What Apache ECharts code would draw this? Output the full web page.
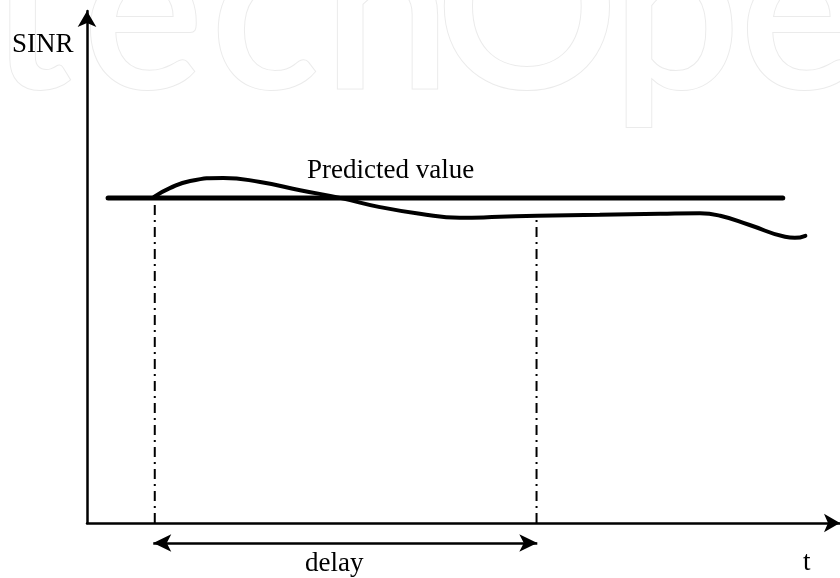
<!DOCTYPE html>
<html>
<head>
<meta charset="utf-8">
<script src="https://cdn.jsdelivr.net/npm/echarts@6/dist/echarts.min.js"></script>
<style>html,body{margin:0;padding:0;background:#fff;}#c{width:840px;height:578px;}</style>
</head>
<body>
<div id="c"></div>
<script>
// ---- data (time t in % of axis, SINR in % of axis) ----
var predictedT = [2.8, 92.4];
var predictedValue = 63.5;
var actualT    = [8.9, 11.0, 13.7, 18.1, 23.0, 28.3, 33.6, 38.9, 44.2, 49.5, 54.8, 59.8, 68.1, 76.1, 81.4, 84.1, 88.0, 92.7, 94.0, 95.4];
var actualSINR = [63.7, 65.4, 66.8, 67.4, 66.6, 65.0, 63.5, 61.7, 60.4, 59.6, 59.8, 60.0, 60.2, 60.4, 60.5, 60.0, 58.2, 55.9, 55.7, 56.1];
var delayStart = 8.8;
var delayEnd = 59.8;
var labels = {y: 'SINR', x: 't', delay: 'delay', predicted: 'Predicted value'};
var watermarkLetters = ['t','e','c','h','O','p','e'];
var watermarkX = [30, 143, 265, 387, 527, 676, 800];

function actualAt(t){
  var best = 0;
  for (var i = 0; i < actualT.length; i++) if (Math.abs(actualT[i]-t) < Math.abs(actualT[best]-t)) best = i;
  return actualSINR[best];
}

var chart = echarts.init(document.getElementById('c'));
var serif = '"Liberation Serif","Times New Roman",serif';
var black = '#000';

var graphics = watermarkLetters.map(function(ch, i){
  return {
    type: 'text', z: 0, silent: true,
    x: watermarkX[i], y: -100,
    style: {
      text: ch, font: '600 228px Lato, "Open Sans", sans-serif',
      fill: '#fff', stroke: '#ebebeb', lineWidth: 2,
      align: 'center', verticalAlign: 'top'
    }
  };
});
function label(text, x, y){
  return {type:'text', z:10, x:x, y:y, style:{text:text, font:'27px '+serif, fill:black, verticalAlign:'middle'}};
}
graphics.push(
  label(labels.y, 12, 45),
  label(labels.predicted, 307, 171),
  label(labels.delay, 305, 564),
  label(labels.x, 803, 563)
);

var hidden = {show:false};
var axisCommon = {
  type: 'value', min: 0, max: 100,
  axisTick: hidden, axisLabel: hidden, splitLine: hidden,
  axisLine: {show:true, symbol:['none','arrow'], symbolSize:[14,16], lineStyle:{color:black, width:2.5}}
};

chart.setOption({
  animation: false,
  backgroundColor: '#fff',
  grid: [
    {left: 87, right: 0, top: 11, bottom: 55, containLabel: false},
    {left: 87, right: 0, top: 533, bottom: 25, containLabel: false}
  ],
  xAxis: [
    Object.assign({gridIndex: 0}, axisCommon),
    {gridIndex: 1, type: 'value', min: 0, max: 100, show: false}
  ],
  yAxis: [
    Object.assign({gridIndex: 0}, axisCommon),
    {gridIndex: 1, type: 'value', min: -1, max: 1, show: false}
  ],
  graphic: graphics,
  series: [
    {
      type: 'line', name: 'predicted', symbol: 'none', z: 5,
      data: predictedT.map(function(t){ return [t, predictedValue]; }),
      lineStyle: {color: black, width: 5, cap: 'round'}
    },
    {
      type: 'line', name: 'actual', symbol: 'none', smooth: 0.5, z: 6,
      data: actualT.map(function(t, i){ return [t, actualSINR[i]]; }),
      lineStyle: {color: black, width: 4, cap: 'round'}
    },
    {
      type: 'line', name: 'guide1', symbol: 'none', z: 4,
      data: [[delayStart + 0.2, 0], [delayStart + 0.2, predictedValue - 0.8]],
      lineStyle: {color: black, width: 2, type: [10, 5, 2, 5]}
    },
    {
      type: 'line', name: 'guide2', symbol: 'none', z: 4,
      data: [[delayEnd - 0.1, 0], [delayEnd - 0.1, actualAt(delayEnd) - 0.6]],
      lineStyle: {color: black, width: 2, type: [10, 5, 2, 5]}
    },
    {
      type: 'line', name: 'delay', symbol: 'none', data: [], z: 4,
      xAxisIndex: 1, yAxisIndex: 1,
      markLine: {
        silent: true, symbol: ['arrow','arrow'], symbolSize: [13, 18],
        label: {show: false},
        lineStyle: {color: black, width: 2.5, type: 'solid'},
        data: [[{coord: [delayStart, 0]}, {coord: [delayEnd, 0]}]]
      }
    }
  ]
});
</script>
</body>
</html>
